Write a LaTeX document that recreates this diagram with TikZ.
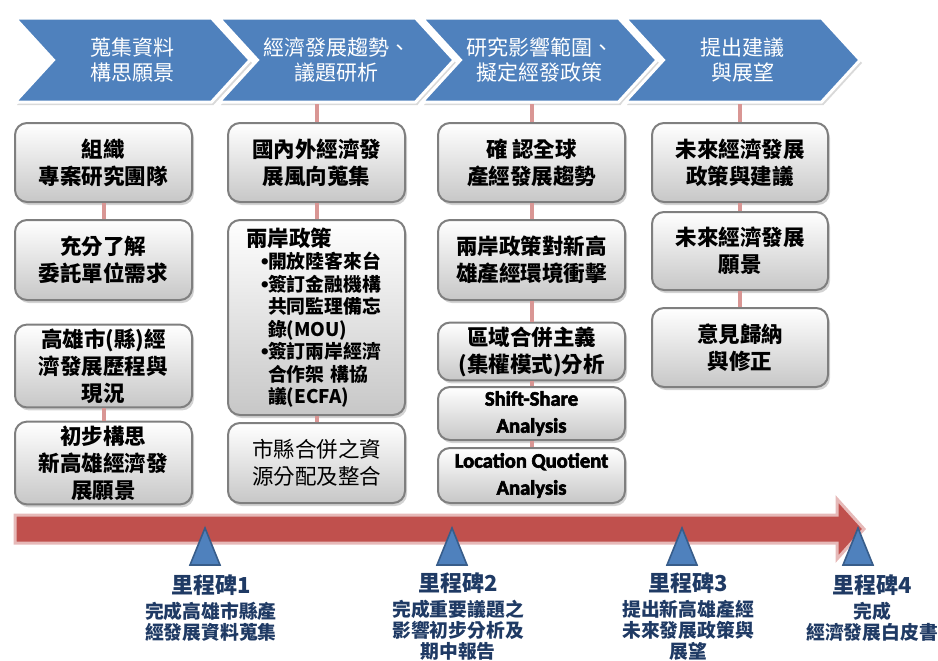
\documentclass[tikz,border=0pt]{standalone}
\usepackage{fontspec}
\setmainfont{Noto Sans CJK TC}
\newfontfamily\calib{Carlito}[FakeBold=3]
\newfontfamily\sym{DejaVu Sans}
\usetikzlibrary{shapes.symbols,shadows}
\definecolor{chev}{HTML}{4F81BD}
\definecolor{chevline}{HTML}{385D8A}
\definecolor{linkred}{HTML}{D99694}
\definecolor{bar}{HTML}{C0504D}
\definecolor{barline}{HTML}{E6B9B8}
\definecolor{stonetext}{HTML}{1F3A64}
\definecolor{boxline}{HTML}{7F7F7F}
\newcommand{\dotitem}{\hspace*{6.5pt}\makebox[4.5pt][l]{\sym\fontsize{9}{9}\selectfont •}}
\newcommand{\engtext}[1]{{\calib\fontsize{10.3}{12.5}\selectfont #1}}
\begin{document}
\begin{tikzpicture}[x=0.5pt,y=-0.5pt,
	phase/.style={shape=signal,signal from=west,signal to=east,signal pointer angle=95,minimum width=117.5pt,minimum height=42pt,inner sep=0pt,fill=chev,draw=white,line width=1.5pt,text=white,align=center,font=\fontsize{10.5}{12.5}\selectfont,drop shadow={opacity=0.3,shadow xshift=1pt,shadow yshift=-1.5pt}},
	task/.style={draw=boxline,line width=1pt,rounded corners=6pt,top color=white,bottom color=black!22,inner sep=2pt,align=center,font=\fontsize{10.75}{13.5}\selectfont\bfseries,drop shadow={opacity=0.35,shadow xshift=1pt,shadow yshift=-1.5pt}},
	wide/.style={minimum width=88.5pt},
	link/.style={draw=linkred,line width=2pt},
	milestone/.style={fill=chev,draw=chevline,line width=0.8pt},
	stone/.style={anchor=north,inner sep=0pt,text width=80pt,align=center,text=stonetext,font=\fontsize{9.4}{10.5}\selectfont\bfseries}]
		\useasboundingbox (0,0) rectangle (938,660);
		\node[phase] (phase1) at (132.5,60) {蒐集資料\\構思願景};
		\node[phase] (phase2) at (336.5,60) {經濟發展趨勢、\\議題研析};
		\node[phase] (phase3) at (539.5,60) {研究影響範圍、\\擬定經發政策};
		\node[phase] (phase4) at (742.5,60) {提出建議\\與展望};
		\coordinate (top2) at (316.5,104);
		\coordinate (top3) at (531.5,104);
		\coordinate (top4) at (740,104);
		
		\node[task,wide,minimum height=39.5pt] (team) at (103.5,162.5) {組織\\專案研究團隊};
		\node[task,wide,minimum height=40pt] (needs) at (103.5,260) {充分了解\\委託單位需求};
		\node[task,wide,minimum height=41pt] (history) at (103.5,366) {高雄市(縣)經\\濟發展歷程與\\現況};
		\node[task,wide,minimum height=40pt] (vision) at (103.5,463) {初步構思\\新高雄經濟發\\展願景};
		
		\node[task,wide,minimum height=39.5pt] (trend) at (316.5,162.5) {國內外經濟發\\展風向蒐集};
		\node[task,wide,minimum height=97.5pt,inner xsep=9pt,text width=70.5pt,align=left,font=\fontsize{9.4}{11.25}\selectfont\bfseries] (strait) at (316.5,317.5) {{\fontsize{10.75}{13}\selectfont 兩岸政策}\\
			\dotitem 開放陸客來台\\
			\dotitem 簽訂金融機構\\
			\hspace*{11pt}共同監理備忘\\
			\hspace*{11pt}錄(MOU)\\
			\dotitem 簽訂兩岸經濟\\
			\hspace*{11pt}合作架 構協\\
			\hspace*{11pt}議(ECFA)};
		\node[task,wide,minimum height=40pt,font=\fontsize{10.75}{13.5}\selectfont\mdseries] (merge) at (316.5,463) {市縣合併之資\\源分配及整合};
		
		\node[task,minimum width=93.5pt,minimum height=39.5pt] (global) at (531.5,162.5) {確 認全球\\產經發展趨勢};
		\node[task,minimum width=93.5pt,minimum height=40pt] (impact) at (531.5,260) {兩岸政策對新高\\雄產經環境衝擊};
		\node[task,minimum width=93.5pt,minimum height=26.5pt] (region) at (531.5,351.5) {區域合併主義\\(集權模式)分析};
		\node[task,minimum width=93.5pt,minimum height=26.5pt] (shift) at (531.5,413.5) {\engtext{Shift-Share}\\\engtext{Analysis}};
		\node[task,minimum width=93.5pt,minimum height=27.5pt] (lq) at (531.5,475.5) {\engtext{Location Quotient}\\\engtext{Analysis}};
		
		\node[task,minimum width=88pt,minimum height=39.5pt] (policy) at (740,162.5) {未來經濟發展\\政策與建議};
		\node[task,minimum width=88pt,minimum height=39pt] (future) at (740,251) {未來經濟發展\\願景};
		\node[task,minimum width=88pt,minimum height=39.5pt] (review) at (740,347.5) {意見歸納\\與修正};
		
		\draw[link] (team) -- (needs);
		\draw[link] (history) -- (vision);
		\draw[link] (top2) -- (trend);
		\draw[link] (trend) -- (strait);
		\draw[link] (strait) -- (merge);
		\draw[link] (top3) -- (global);
		\draw[link] (global) -- (impact);
		\draw[link] (impact) -- (region);
		\draw[link] (region) -- (shift);
		\draw[link] (shift) -- (lq);
		\draw[link] (top4) -- (policy);
		\draw[link] (policy) -- (future);
		\draw[link] (future) -- (review);
		
		\filldraw[fill=bar,draw=barline,line width=1.5pt] (15,515) -- (837,515) -- (837,499) -- (864,529) -- (837,559) -- (837,543) -- (15,543) -- cycle;
		\filldraw[milestone] (205,528) -- (220,565) -- (190,565) -- cycle;
		\filldraw[milestone] (452,528) -- (467,565) -- (437,565) -- cycle;
		\filldraw[milestone] (682,528) -- (697,565) -- (667,565) -- cycle;
		\filldraw[milestone] (858,528) -- (873,565) -- (843,565) -- cycle;
		\node[stone] (m1) at (211,574) {{\fontsize{11}{13}\selectfont 里程碑1}\\[2pt]完成高雄市縣產\\經發展資料蒐集};
		\node[stone] (m2) at (458,572) {{\fontsize{11}{13}\selectfont 里程碑2}\\[2pt]完成重要議題之\\影響初步分析及\\期中報告};
		\node[stone] (m3) at (688,572) {{\fontsize{11}{13}\selectfont 里程碑3}\\[2pt]提出新高雄產經\\未來發展政策與\\展望};
		\node[stone] (m4) at (872,574) {{\fontsize{11}{13}\selectfont 里程碑4}\\[2pt]完成\\經濟發展白皮書};
		\end{tikzpicture}
\end{document}
